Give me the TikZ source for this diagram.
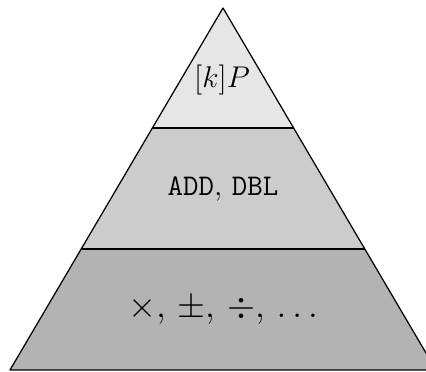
\documentclass[tikz,border=0pt]{standalone}
\usepackage{xcolor}
\usepackage{tikz}
\usetikzlibrary{positioning}
\definecolor{tiertop}{HTML}{E6E6E6}
\definecolor{tiermid}{HTML}{CCCCCC}
\definecolor{tierlow}{HTML}{B3B3B3}

\tikzset{
    tier/.style={draw=black, line width=0.5pt, line join=round},
    tierlabel/.style={inner sep=0pt, anchor=center, font=\large}
}

\begin{document}
\begin{tikzpicture}[x=0.4pt, y=0.4pt]
    \useasboundingbox (0,0) rectangle (426,372);
    % corners of the pyramid and its two cuts
    \coordinate (apex) at (223,364);
    \coordinate (bl) at (10,2);
    \coordinate (br) at (436,2);
    \coordinate (ml) at (81.5,123);
    \coordinate (mr) at (364.5,123);
    \coordinate (tl) at (152.5,244);
    \coordinate (tr) at (293.5,244);

    \fill[tierlow] (bl) -- (br) -- (mr) -- (ml) -- cycle;
    \fill[tiermid] (ml) -- (mr) -- (tr) -- (tl) -- cycle;
    \fill[tiertop] (tl) -- (tr) -- (apex) -- cycle;
    \draw[tier] (bl) -- (br) -- (apex) -- cycle;
    \draw[tier] (ml) -- (mr);
    \draw[tier] (tl) -- (tr);

    \node[tierlabel] (scalar) at (222,292) {$[k]P$};
    \node[tierlabel] (group) at (223,183) {\texttt{ADD}, \texttt{DBL}};
    \node[tierlabel, font=\Large] (field) at (223,62) {$\times$, $\pm$, $\div$, $\ldots$};
\end{tikzpicture}
\end{document}
